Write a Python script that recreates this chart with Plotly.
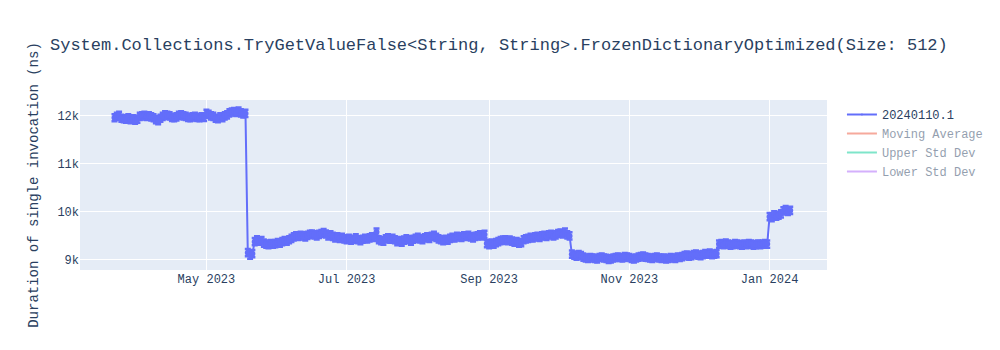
import pandas as pd
import plotly.graph_objects as go

start_date = "2023-03-22"

seg1 = [11960, 11990, 12010, 11950, 11940, 11930, 11960, 11920, 11940, 11910,
        11930, 11990, 12000, 12010, 11990, 12000, 11980, 11960, 11920, 11900,
        11950, 11990, 12020, 12010, 12000, 11970, 11960, 11980, 12010, 12020,
        12000, 11990, 11970, 11960, 11980, 11990, 11970, 11960, 11980, 11970,
        12050, 12030, 12000, 11990, 11950, 11940, 11980, 11960, 12000, 12020,
        12060, 12080, 12090, 12070, 12100, 12060, 12040, 12050]

seg2 = [9150, 9100,
        9130, 9380, 9420, 9390, 9400, 9350, 9330, 9320, 9340, 9330,
        9340, 9360, 9350, 9380, 9400, 9390, 9420, 9450, 9480, 9500,
        9490, 9510, 9500, 9480, 9510, 9530, 9540, 9520, 9500, 9530,
        9550, 9570, 9540, 9500, 9520, 9490, 9460, 9480, 9450, 9470,
        9440, 9420, 9450, 9410, 9430, 9460, 9420, 9400, 9430, 9450,
        9440, 9460, 9480, 9470, 9580, 9420, 9400, 9390, 9440, 9460,
        9430, 9450, 9420, 9380, 9400, 9370, 9410, 9440, 9420, 9390,
        9430, 9450, 9470, 9440, 9420, 9460, 9480, 9450, 9490, 9510,
        9470, 9440, 9420, 9400, 9430, 9410, 9450, 9470, 9460, 9490,
        9480, 9470, 9500, 9490, 9510, 9480, 9460, 9490, 9500, 9520,
        9500, 9530, 9340, 9320, 9350, 9330, 9360, 9380, 9400, 9410,
        9420, 9400, 9410, 9390, 9370, 9380, 9350, 9360, 9420, 9440,
        9450, 9470, 9460, 9480, 9490, 9470, 9500, 9510, 9490, 9520,
        9530, 9500, 9520, 9550, 9560, 9540, 9580, 9520, 9500]

seg3 = [9120, 9100, 9080, 9110, 9090, 9060, 9040, 9030, 9050, 9040,
        9030, 9020, 9050, 9060, 9040, 9030, 9010, 9020, 9040, 9050,
        9060, 9050, 9040, 9070, 9060, 9050, 9030, 9020, 9040, 9060,
        9070, 9080, 9060, 9050, 9040, 9030, 9050, 9060, 9040, 9030,
        9040, 9020, 9030, 9050, 9040, 9030, 9060, 9050, 9070, 9090,
        9100, 9080, 9090, 9110, 9120, 9100, 9090, 9110, 9130, 9120,
        9140, 9110, 9120, 9130]

seg4 = [9330, 9340, 9320, 9350, 9330, 9310, 9320, 9340, 9330, 9320, 9310,
        9330, 9320, 9340, 9330, 9310, 9320, 9330, 9320, 9330, 9340, 9330]

seg5 = [9900, 9880, 9940, 9910, 9930, 9960, 10020, 10050, 10010, 10030]

values = seg1 + seg2 + seg3 + seg4 + seg5
dates = pd.date_range(start_date, periods=len(values), freq="D")
err = 75

s = pd.Series(values, index=dates)
mov_avg = s.rolling(10, min_periods=1).mean()
mov_std = s.rolling(10, min_periods=1).std().fillna(0)
upper = mov_avg + 2 * mov_std
lower = mov_avg - 2 * mov_std

FONT = "Liberation Mono, Courier New, monospace"

fig = go.Figure()
fig.add_trace(go.Scatter(
    x=dates, y=values, mode="lines+markers", name="20240110.1",
    line=dict(color="#636EFA", width=2),
    marker=dict(size=0, color="#636EFA"),
    error_y=dict(type="data", array=[err] * len(values), symmetric=True, visible=True,
                 color="#636EFA", thickness=2.5, width=3),
))
fig.add_trace(go.Scatter(x=dates, y=mov_avg, mode="lines", name="Moving Average",
                         line=dict(color="#EF553B"), visible="legendonly"))
fig.add_trace(go.Scatter(x=dates, y=upper, mode="lines", name="Upper Std Dev",
                         line=dict(color="#00CC96"), visible="legendonly"))
fig.add_trace(go.Scatter(x=dates, y=lower, mode="lines", name="Lower Std Dev",
                         line=dict(color="#AB63FA"), visible="legendonly"))

fig.update_layout(
    width=1000, height=350,
    template="plotly",
    font=dict(family=FONT),
    showlegend=True,
    title=dict(text="System.Collections.TryGetValueFalse<String, String>.FrozenDictionaryOptimized(Size: 512)"),
    yaxis=dict(title=dict(text="Duration of single invocation (ns)"), range=[8790, 12330]),
    xaxis=dict(range=["2023-03-07", "2024-01-26"]),
)

fig.write_html("out.html")
